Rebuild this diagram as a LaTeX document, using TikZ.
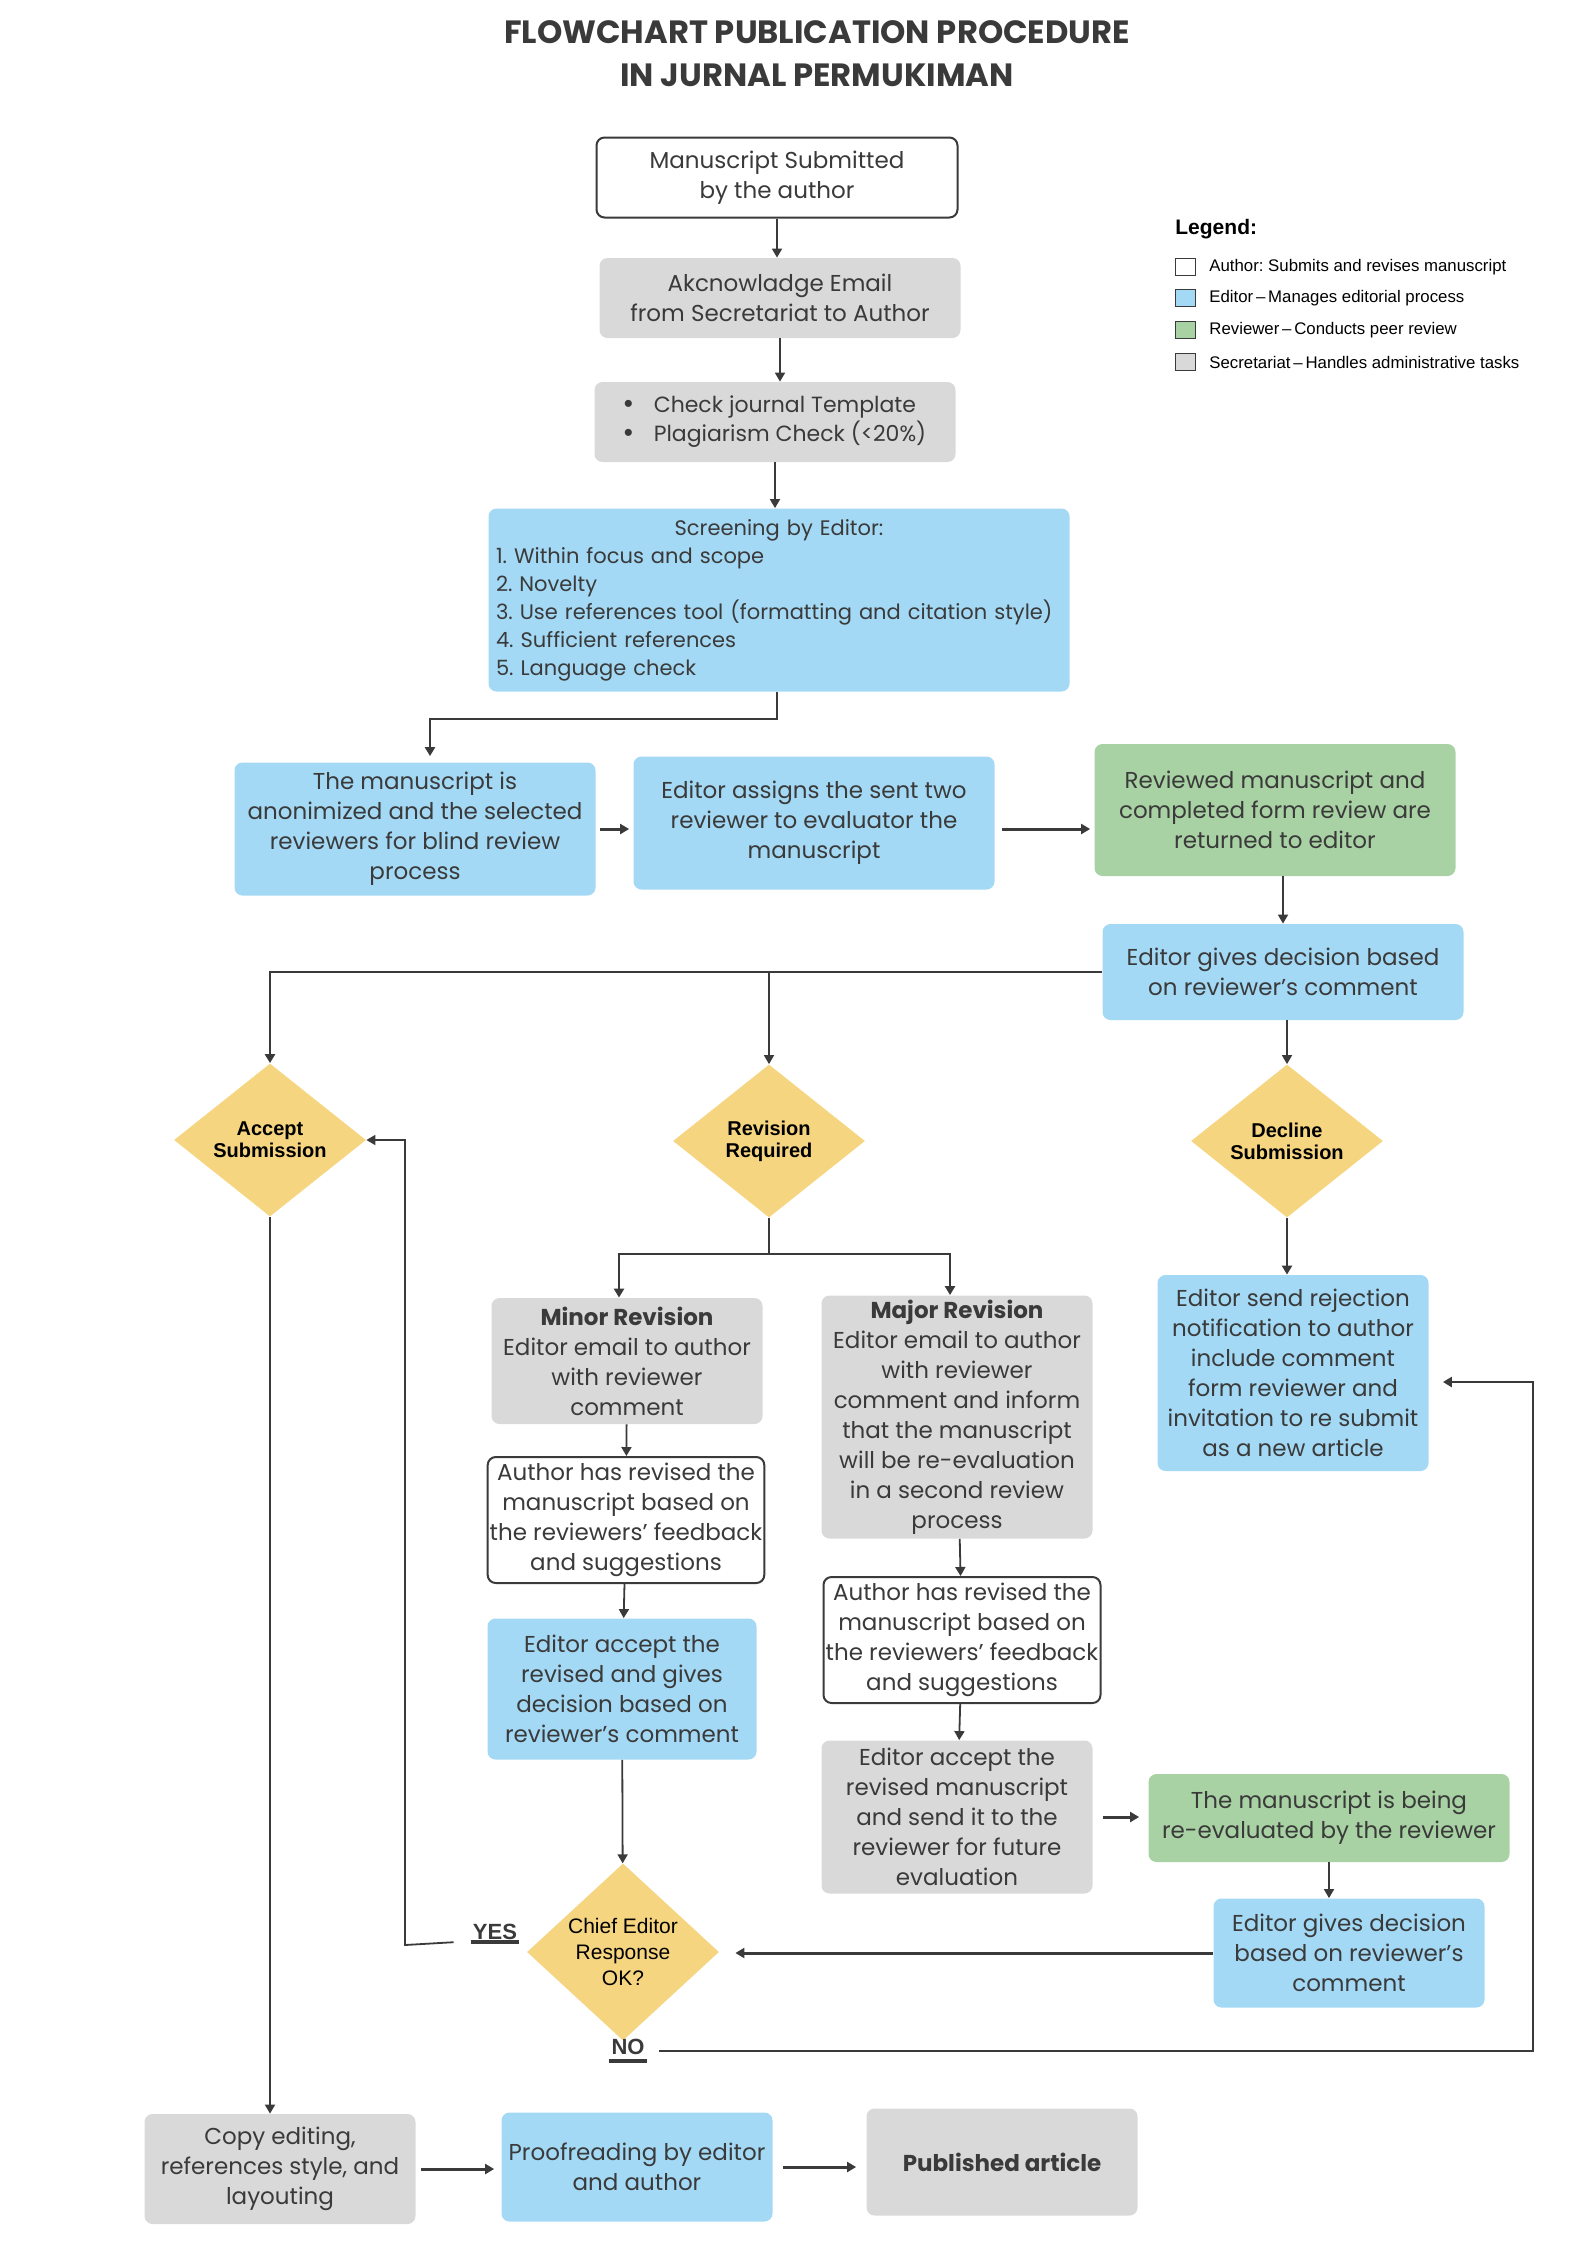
\documentclass[tikz,border=0pt]{standalone}
\usepackage{fontspec}
\setmainfont{Poppins}
\newfontfamily\labelfont{Liberation Sans}
\usetikzlibrary{shapes.geometric,arrows.meta}
\definecolor{ink}{HTML}{3A3A3A}
\definecolor{editorblue}{HTML}{A3D9F5}
\definecolor{reviewgreen}{HTML}{A8D2A3}
\definecolor{secgray}{HTML}{D9D9D9}
\definecolor{decisionyellow}{HTML}{F6D581}
\frenchspacing
\begin{document}
\begin{tikzpicture}[x=0.5pt,y=-0.5pt]
\tikzset{
    box/.style={rounded corners=4pt, align=center, inner sep=1pt, text=ink, font=\fontsize{11.5}{15}\selectfont},
    author/.style={box, draw=ink, line width=1pt, fill=white},
    editor/.style={box, fill=editorblue},
    reviewer/.style={box, fill=reviewgreen},
    secretariat/.style={box, fill=secgray},
    wide/.style={minimum width=180.5pt},
    narrow/.style={minimum width=135.5pt},
    decision/.style={diamond, fill=decisionyellow, align=center, inner sep=0pt, minimum width=96pt, minimum height=76.5pt, text=black, font=\labelfont\bfseries\fontsize{10}{11}\selectfont},
    link/.style={draw=ink, line width=0.9pt},
    arr/.style={link, -{Triangle[width=5pt,length=4.5pt]}},
    bigarr/.style={arr, line width=1.5pt},
    key/.style={draw=ink, line width=0.5pt, minimum width=10pt, minimum height=8.5pt, inner sep=0pt},
    keytext/.style={anchor=west, inner sep=0pt, text=black, font=\labelfont\fontsize{8.4}{10}\selectfont},
    yesno/.style={inner sep=1pt, text=ink, font=\labelfont\bfseries\fontsize{11}{12}\selectfont},
}
\newcommand\dotitem{\makebox[15pt][l]{\labelfont\fontsize{13}{13}\selectfont•}}
\useasboundingbox (0,0) rectangle (1587,2245);

% Title
\node[align=center, text=ink, font=\bfseries\fontsize{16.1}{21.5}\selectfont] (title) at (817,54)
    {FLOWCHART PUBLICATION PROCEDURE\\IN JURNAL PERMUKIMAN};

% Legend
\node[anchor=west, inner sep=0pt, font=\labelfont\bfseries\fontsize{10.5}{12}\selectfont] (legend) at (1175,229) {Legend:};
\node[key, fill=white] (kauthor) at (1185,267) {};
\node[keytext] (tauthor) at (1209,267) {Author: Submits and revises manuscript};
\node[key, fill=editorblue] (keditor) at (1185,298) {};
\node[keytext] (teditor) at (1209,298) {Editor\,–\,Manages editorial process};
\node[key, fill=reviewgreen] (kreviewer) at (1185,330) {};
\node[keytext] (treviewer) at (1209,330) {Reviewer\,–\,Conducts peer review};
\node[key, fill=secgray] (ksecretariat) at (1185,362) {};
\node[keytext] (tsecretariat) at (1209,362) {Secretariat\,–\,Handles administrative tasks};

% Submission and screening
\node[author, wide, minimum height=40pt] (submitted) at (777,177.5) {Manuscript Submitted\\by the author};
\node[secretariat, wide, minimum height=40pt] (acknowledge) at (780,298) {Akcnowladge Email\\from Secretariat to Author};
\node[secretariat, wide, minimum height=40pt, align=left, font=\fontsize{11}{14.5}\selectfont] (check) at (775,422)
    {\dotitem Check journal Template\\\dotitem Plagiarism Check (<20\%)};
\node[editor, minimum width=290.5pt, minimum height=91.5pt, text width=283pt, align=left, font=\fontsize{10.5}{14}\selectfont] (screening) at (779,600)
    {{\centering Screening by Editor:\par}
     1. Within focus and scope\\
     2. Novelty\\
     3. Use references tool (formatting and citation style)\\
     4. Sufficient references\\
     5. Language check};

% Review round
\node[editor, wide, minimum height=66.5pt] (anonimized) at (415,829) {The manuscript is\\anonimized and the selected\\reviewers for blind review\\process};
\node[editor, wide, minimum height=66.5pt] (assign) at (814,823) {Editor assigns the sent two\\reviewer to evaluator the\\manuscript};
\node[reviewer, wide, minimum height=66pt] (returned) at (1275,810) {Reviewed manuscript and\\completed form review are\\returned to editor};
\node[editor, wide, minimum height=48pt] (decision) at (1283,972) {Editor gives decision based\\on reviewer’s comment};

% Decisions
\node[decision] (accept) at (270,1140) {Accept\\Submission};
\node[decision] (revision) at (769,1141) {Revision\\Required};
\node[decision] (decline) at (1287,1141) {Decline\\Submission};

% Revision branches
\node[secretariat, narrow, minimum height=63pt] (minor) at (627,1361)
    {\textbf{Minor Revision}\\Editor email to author\\with reviewer\\comment};
\node[secretariat, narrow, minimum height=121.5pt] (major) at (957,1417)
    {\textbf{Major Revision}\\Editor email to author\\with reviewer\\comment and inform\\that the manuscript\\will be re-evaluation\\in a second review\\process};
\node[editor, narrow, minimum height=98pt] (reject) at (1293,1373)
    {Editor send rejection\\notification to author\\include comment\\form reviewer and\\invitation to re submit\\as a new article};
\node[author, minimum width=137.5pt, minimum height=63pt] (minorauthor) at (626,1520)
    {Author has revised the\\manuscript based on\\the reviewers’ feedback\\and suggestions};
\node[editor, minimum width=134.5pt, minimum height=70.5pt] (minoreditor) at (622,1689)
    {Editor accept the\\revised and gives\\decision based on\\reviewer’s comment};
\node[author, minimum width=138.5pt, minimum height=63pt] (majorauthor) at (962,1640)
    {Author has revised the\\manuscript based on\\the reviewers’ feedback\\and suggestions};
\node[secretariat, narrow, minimum height=76.5pt] (resend) at (957,1817)
    {Editor accept the\\revised manuscript\\and send it to the\\reviewer for future\\evaluation};
\node[reviewer, wide, minimum height=44pt] (reevaluated) at (1329,1818) {The manuscript is being\\re-evaluated by the reviewer};
\node[editor, narrow, minimum height=54.5pt] (seconddecision) at (1349,1953) {Editor gives decision\\based on reviewer’s\\comment};
\node[decision, font=\labelfont\fontsize{10.5}{13}\selectfont] (chief) at (623,1952) {Chief Editor\\Response\\OK?};
\node[yesno] (yes) at (495,1932) {YES};
\node[yesno] (no) at (628,2047) {NO};
\draw[ink, line width=2pt] (yes.south west) -- (yes.south east);
\draw[ink, line width=2pt] ([yshift=-2pt]no.south west) -- ([yshift=-2pt]no.south east);

% Production
\node[secretariat, narrow, minimum height=55pt] (copyediting) at (280,2169) {Copy editing,\\references style, and\\layouting};
\node[editor, narrow, minimum height=54.5pt] (proofreading) at (637,2167) {Proofreading by editor\\and author};
\node[secretariat, narrow, minimum height=53.5pt] (published) at (1002,2162) {\textbf{Published article}};

% Connectors, top to bottom
\draw[arr] (submitted.south) -- (submitted.south |- acknowledge.north);
\draw[arr] (acknowledge.south) -- (acknowledge.south |- check.north);
\draw[arr] (check.south) -- (check.south |- screening.north);
\draw[arr, line width=1.2pt, shorten >=3pt] ([xshift=-1pt]screening.south) -- ++(0,27) -| ([xshift=7.5pt]anonimized.north);
\draw[bigarr, shorten <=2pt, shorten >=2pt] (anonimized.east) -- (anonimized.east -| assign.west);
\draw[bigarr, shorten <=3.5pt, shorten >=2pt] (assign.east |- anonimized.east) -- (returned.west |- anonimized.east);
\draw[arr] (decision.north |- returned.south) -- (decision.north);
\draw[arr, line width=1.2pt] (decision.west) -| (accept.north);
\draw[arr] (revision.north |- decision.west) -- (revision.north);
\draw[arr] (decline.north |- decision.south) -- (decline.north);

\coordinate (split) at (769,1254);
\draw[link, line width=1.2pt] (revision.south) -- (split);
\draw[arr, line width=1.2pt] (split) -| ([xshift=-4pt]minor.north);
\draw[arr, line width=1.2pt] (split) -| ([xshift=-3.5pt]major.north);
\draw[arr, line width=1.2pt] (decline.south) -- (decline.south |- reject.north);

\draw[arr] (minor) -- (minorauthor);
\draw[arr] (minorauthor) -- (minoreditor);
\draw[arr] (minoreditor) -- (chief);
\draw[arr] (major) -- (majorauthor);
\draw[arr] (majorauthor) -- (resend);
\draw[bigarr, shorten <=5pt, shorten >=4.5pt] (resend.east) -- (resend.east -| reevaluated.west);
\draw[arr] (reevaluated.south) -- (reevaluated.south |- seconddecision.north);
\draw[bigarr, shorten >=8pt] (seconddecision.west) -- (seconddecision.west -| chief.east);

% YES goes back to accept, NO goes to rejection
\coordinate (yesturn) at (405,1945);
\draw[arr] ([xshift=-8.5pt]yes.south west) -- (yesturn) |- (accept.east);
\coordinate (noturn) at (1533,2051);
\draw[arr, line width=1.2pt, shorten >=7pt] ([xshift=6pt]no.east |- noturn) -- (noturn) |- ([yshift=-4.5pt]reject.east);

\draw[arr] (accept.south) -- (accept.south |- copyediting.north);
\draw[bigarr, shorten <=2.5pt, shorten >=3.5pt] (copyediting.east) -- (copyediting.east -| proofreading.west);
\draw[bigarr, shorten <=5pt, shorten >=5pt] (proofreading.east) -- (proofreading.east -| published.west);
\end{tikzpicture}
\end{document}
